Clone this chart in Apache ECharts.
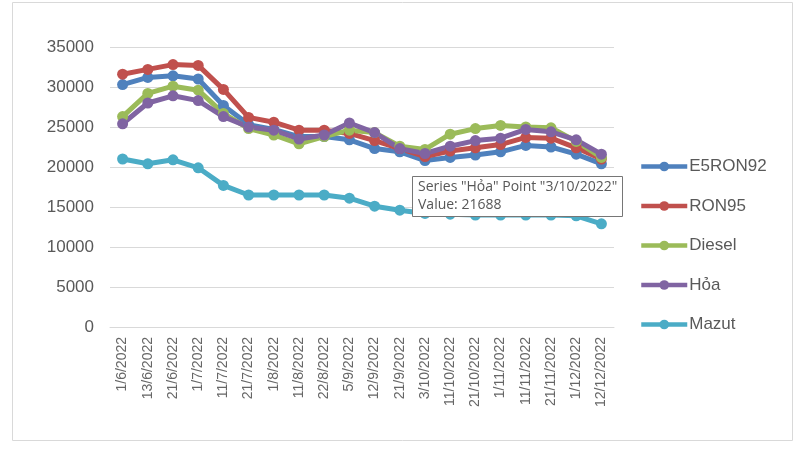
<!DOCTYPE html>
<html><head><meta charset="utf-8">
<script src="https://cdn.jsdelivr.net/npm/echarts@6/dist/echarts.min.js"></script>
<style>html,body{margin:0;padding:0;background:#fff}#c{width:800px;height:450px}</style>
</head><body><div id="c"></div>
<script>
const categories = ["1/6/2022","13/6/2022","21/6/2022","1/7/2022","11/7/2022","21/7/2022","1/8/2022","11/8/2022","22/8/2022","5/9/2022","12/9/2022","21/9/2022","3/10/2022","11/10/2022","21/10/2022","1/11/2022","11/11/2022","21/11/2022","1/12/2022","12/12/2022"];
const e5ron92 = [30300,31200,31400,31000,27700,25300,24700,23800,23800,23400,22300,21900,20800,21200,21500,21900,22700,22500,21600,20400];
const ron95 = [31600,32200,32800,32700,29700,26200,25600,24600,24600,24200,23300,22300,21300,22000,22400,22800,23700,23600,22400,21000];
const diesel = [26300,29200,30100,29600,26700,24800,24000,22900,23800,24600,24300,22600,22200,24100,24800,25200,25000,24900,23200,21200];
const hoa = [25400,28000,28900,28300,26300,25000,24600,23500,24000,25500,24300,22300,21688,22600,23300,23600,24700,24400,23400,21600];
const mazut = [21000,20400,20900,19900,17700,16500,16500,16500,16500,16100,15100,14600,14200,14100,14000,14000,14000,14000,13900,12900];
const seriesNames = ["E5RON92","RON95","Diesel","Hỏa","Mazut"];
const colors = ["#4F81BD","#C0504D","#9BBB59","#8064A2","#4BACC6"];
const yTicks = [0,5000,10000,15000,20000,25000,30000,35000];

const chart = echarts.init(document.getElementById('c'));
const dataSets = [e5ron92, ron95, diesel, hoa, mazut];
chart.setOption({
  animation: false,
  color: colors,
  grid: {left: 110, right: 186, top: 47, bottom: 123},
  legend: {
    orient: 'vertical', left: 634, top: 153, itemGap: 22.5, itemWidth: 46, itemHeight: 12,
    lineStyle: {width: 4.5},
    textStyle: {fontFamily: 'Liberation Sans, Arial', fontSize: 17, color: '#595959', padding: [0,0,0,-3]},
    data: seriesNames
  },
  xAxis: {
    type: 'category', data: categories, boundaryGap: true,
    axisLine: {lineStyle: {color: '#D9D9D9'}},
    axisTick: {show: false},
    axisLabel: {rotate: 90, interval: 0, fontFamily: 'Liberation Sans, Arial', fontSize: 14, color: '#666666', margin: 10}
  },
  yAxis: {
    type: 'value', min: yTicks[0], max: yTicks[yTicks.length-1], interval: 5000,
    axisLine: {show: false}, axisTick: {show: false},
    splitLine: {lineStyle: {color: '#D9D9D9'}},
    axisLabel: {fontFamily: 'Liberation Sans, Arial', fontSize: 17, color: '#595959', margin: 16, formatter: v => String(v)}
  },
  series: dataSets.map((d, i) => ({
    name: seriesNames[i], type: 'line', data: d,
    symbol: 'circle', symbolSize: 11,
    lineStyle: {width: 5, color: colors[i]},
    itemStyle: {color: colors[i]}
  })),
  graphic: [
    {type: 'rect', left: 10, top: 0, shape: {width: 780, height: 438}, style: {fill: 'none', stroke: '#D9D9D9', lineWidth: 1}, z: -1},
    {type: 'rect', left: 412, top: 176, z: 100, shape: {width: 210, height: 40}, style: {fill: '#fff', stroke: '#767676', lineWidth: 1}},
    {type: 'text', left: 418, top: 178, z: 101, style: {text: 'Series "Hỏa" Point "3/10/2022"\nValue: 21688', fill: '#575757', font: '14px "Open Sans", sans-serif', lineHeight: 18}}
  ]
});
</script></body></html>
